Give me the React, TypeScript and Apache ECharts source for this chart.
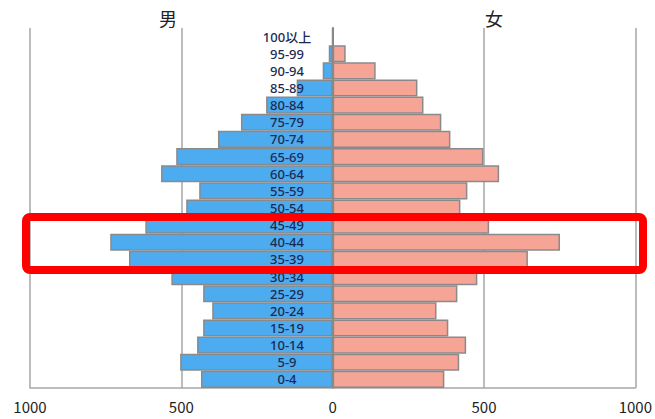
import React, { useEffect, useRef } from "react";
import * as echarts from "echarts";

const categories = ["0-4", "5-9", "10-14", "15-19", "20-24", "25-29", "30-34", "35-39", "40-44", "45-49", "50-54", "55-59", "60-64", "65-69", "70-74", "75-79", "80-84", "85-89", "90-94", "95-99", "100以上"];
const maleValues = [435, 504, 448, 428, 398, 428, 533, 673, 735, 619, 484, 441, 567, 517, 379, 303, 220, 119, 33, 13, 1];
const femaleValues = [369, 418, 441, 382, 343, 412, 478, 645, 751, 517, 422, 445, 550, 498, 389, 359, 300, 280, 142, 43, 2];
const xTicks = [-1000, -500, 0, 500, 1000];
const maleLabel = "男";
const femaleLabel = "女";

export default function App() {
  const ref = useRef<HTMLDivElement>(null);
  useEffect(() => {
    if (!ref.current) return;
    const chart = echarts.init(ref.current, undefined, { renderer: "svg" });
    const gray = "#a6a6a6";
    chart.setOption({
      animation: false,
      backgroundColor: "#ffffff",
      grid: { left: 30, right: 18, top: 28, bottom: 31, containLabel: false },
      xAxis: {
        type: "value",
        min: xTicks[0],
        max: xTicks[xTicks.length - 1],
        interval: 500,
        axisLine: { show: true, onZero: false, lineStyle: { color: gray, width: 1.5 } },
        axisTick: { show: false },
        splitLine: { show: true, lineStyle: { color: gray, width: 1.5 } },
        axisLabel: {
          formatter: (v: number) => String(Math.abs(v)),
          color: "#222222",
          fontSize: 15,
          fontFamily: "Noto Sans CJK JP",
          margin: 11,
          showMinLabel: true,
          showMaxLabel: true,
        },
      },
      yAxis: [
        {
          type: "category",
          data: categories,
          position: "left",
          z: 10,
          axisLine: { show: false, onZero: false },
          axisTick: { show: false },
          splitLine: { show: false },
          axisLabel: {
            inside: true,
            align: "center",
            margin: 257,
            interval: 0,
            color: "#1c2a52",
            fontSize: 13,
            lineHeight: 13,
            fontWeight: 500,
            fontFamily: "'Noto Sans', 'Noto Sans CJK JP'",
          },
        },
        {
          type: "category",
          data: categories,
          z: 0,
          axisLine: { show: true, onZero: true, onZeroAxisIndex: 0, lineStyle: { color: "#808080", width: 2 } },
          axisTick: { show: false },
          axisLabel: { show: false },
          splitLine: { show: false },
        },
      ],
      series: [
        {
          name: maleLabel,
          type: "bar",
          yAxisIndex: 0,
          data: maleValues.map((v) => -v),
          barCategoryGap: "0%",
          barGap: "-100%",
          itemStyle: { color: "#4dabf0", borderColor: "#8a8a8a", borderWidth: 1.5 },
        },
        {
          name: femaleLabel,
          type: "bar",
          yAxisIndex: 0,
          data: femaleValues,
          barCategoryGap: "0%",
          barGap: "-100%",
          itemStyle: { color: "#f5a496", borderColor: "#8a8a8a", borderWidth: 1.5 },
        },
      ],
      graphic: [
        {
          type: "text",
          x: 168,
          y: 18,
          style: { text: maleLabel, fontSize: 18, fontFamily: "Noto Sans CJK JP", fill: "#222222", align: "center", verticalAlign: "middle" },
        },
        {
          type: "text",
          x: 494,
          y: 18,
          style: { text: femaleLabel, fontSize: 18, fontFamily: "Noto Sans CJK JP", fill: "#222222", align: "center", verticalAlign: "middle" },
        },
        {
          type: "rect",
          z: 100,
          shape: { x: 26, y: 217, width: 617, height: 53, r: 4 },
          style: { fill: "none", stroke: "#ff0000", lineWidth: 8 },
        },
      ],
    });
    return () => chart.dispose();
  }, []);
  return <div ref={ref} style={{ position: "fixed", left: 0, top: 0, width: 655, height: 419 }} />;
}
